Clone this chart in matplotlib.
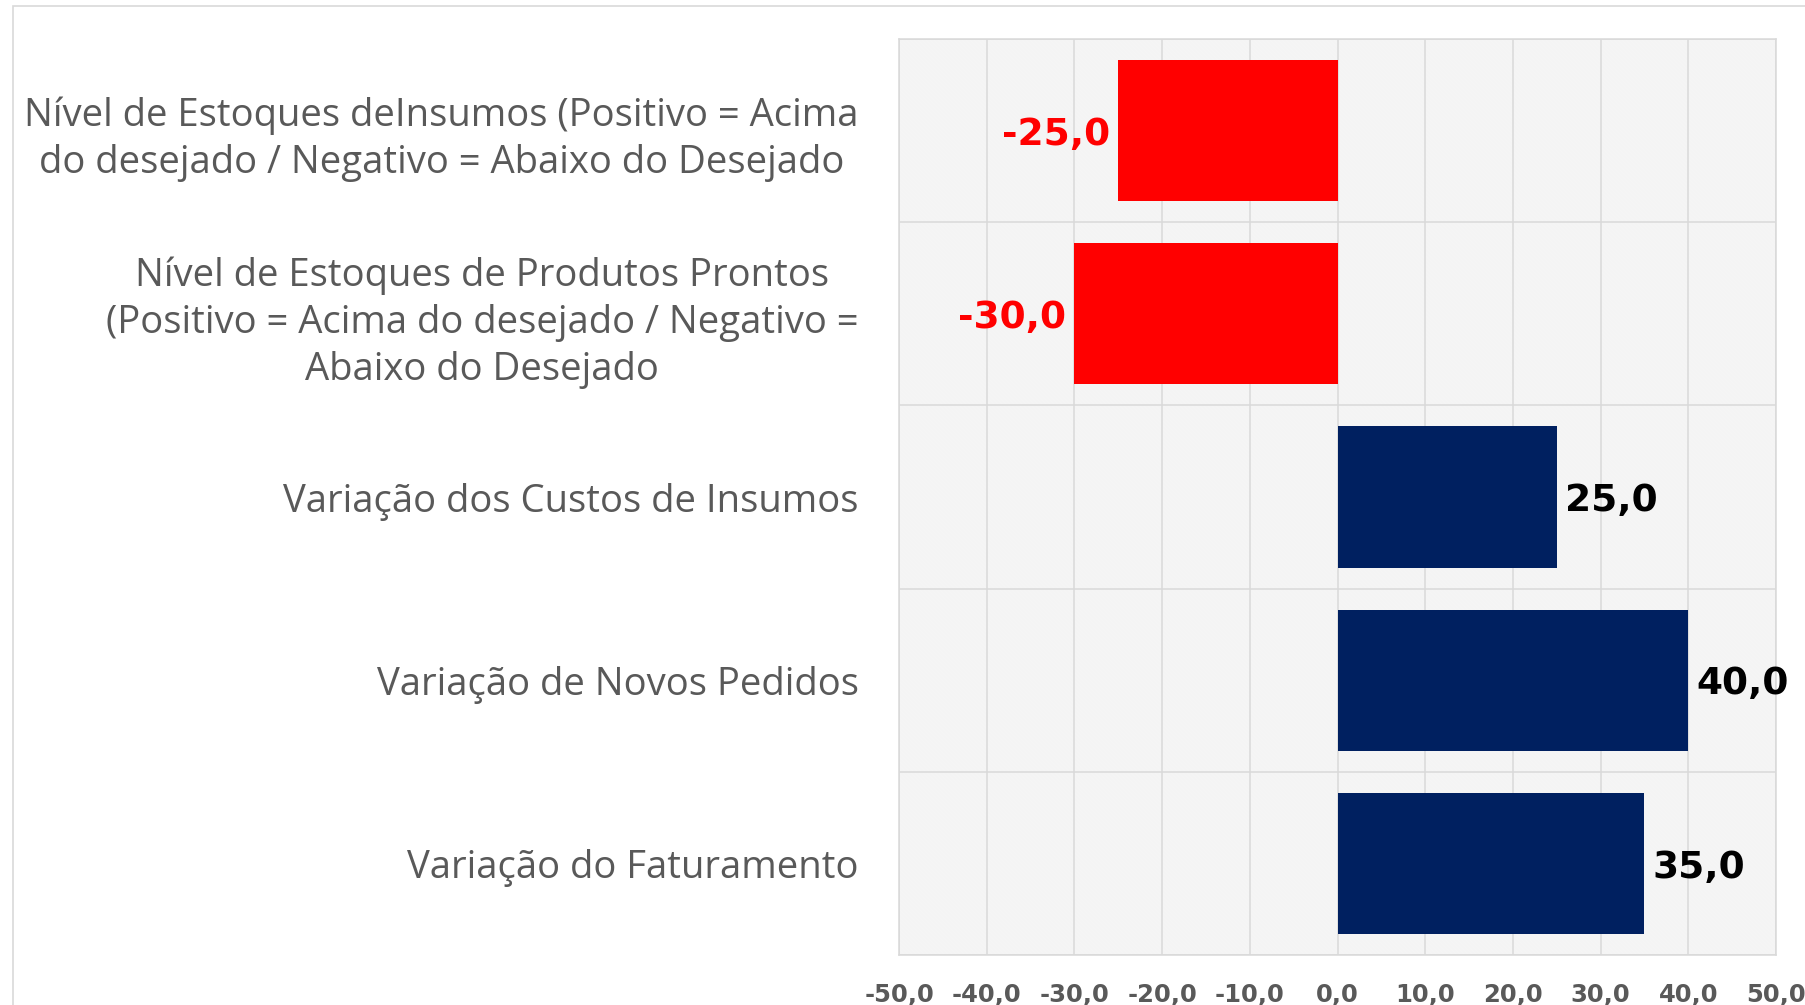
import numpy as np
import matplotlib.pyplot as plt
from matplotlib.patches import Rectangle

categorias = [
    'Nível de Estoques deInsumos (Positivo = Acima\ndo desejado / Negativo = Abaixo do Desejado',
    'Nível de Estoques de Produtos Prontos\n(Positivo = Acima do desejado / Negativo =\nAbaixo do Desejado',
    'Variação dos Custos de Insumos',
    'Variação de Novos Pedidos',
    'Variação do Faturamento',
]
valores = [-25.0, -30.0, 25.0, 40.0, 35.0]
ticks_x = [-50, -40, -30, -20, -10, 0, 10, 20, 30, 40, 50]

AZUL = '#002060'
VERMELHO = '#ff0000'
CINZA_GRADE = '#d9d9d9'
CINZA_TEXTO = '#595959'

plt.rcParams['hatch.color'] = '#eeeeee'
plt.rcParams['hatch.linewidth'] = 0.4

fig = plt.figure(figsize=(18.05, 10.05), dpi=100)
W, H = 1805, 1005

# moldura do gráfico
fig.patches.append(Rectangle((13 / W, -0.01), 1.02, 1 - 6 / H + 0.01, transform=fig.transFigure,
                             fill=False, edgecolor=CINZA_GRADE, linewidth=1.2))

ax = fig.add_axes([899 / W, 1 - 955 / H, (1776 - 899) / W, (955 - 39) / H])
ax.set_facecolor('white')

# fundo hachurado
ax.add_patch(Rectangle((0, 0), 1, 1, transform=ax.transAxes, facecolor='white',
                       edgecolor='#eeeeee', linewidth=0, hatch='\\' * 25, zorder=0))

y = np.arange(len(categorias))
cores = [VERMELHO if v < 0 else AZUL for v in valores]
ax.barh(y, valores, height=0.77, color=cores, zorder=3)

for yi, v in zip(y, valores):
    cor = VERMELHO if v < 0 else 'black'
    texto = f'{v:.1f}'.replace('.', ',')
    ax.annotate(texto, (v, yi), xytext=(-6 if v < 0 else 6, -3), textcoords='offset points',
                ha='right' if v < 0 else 'left', va='center', fontsize=27, fontweight='bold',
                color=cor, family='DejaVu Sans', zorder=4)

ax.set_xlim(-50, 50)
ax.set_ylim(len(categorias) - 0.5, -0.5)
ax.set_xticks(ticks_x)
ax.set_xticklabels([f'{t:.1f}'.replace('.', ',') for t in ticks_x], fontsize=17.5,
                   fontweight='bold', color=CINZA_TEXTO, family='DejaVu Sans')
ax.set_yticks(y)
ax.set_yticklabels(categorias, fontsize=27.5, color=CINZA_TEXTO, family='Open Sans',
                   multialignment='center', linespacing=1.3)
ax.set_yticks(np.arange(len(categorias) + 1) - 0.5, minor=True)
ax.tick_params(axis='both', which='both', length=0)
ax.tick_params(axis='x', pad=20)
ax.tick_params(axis='y', pad=29)

ax.grid(axis='x', which='major', color=CINZA_GRADE, linewidth=1.1, zorder=1)
ax.grid(axis='y', which='minor', color=CINZA_GRADE, linewidth=1.1, zorder=1)
ax.set_axisbelow(True)
for lado in ax.spines.values():
    lado.set_color(CINZA_GRADE)
    lado.set_linewidth(1.1)

fig.savefig('out.png', dpi=100, facecolor='white')
